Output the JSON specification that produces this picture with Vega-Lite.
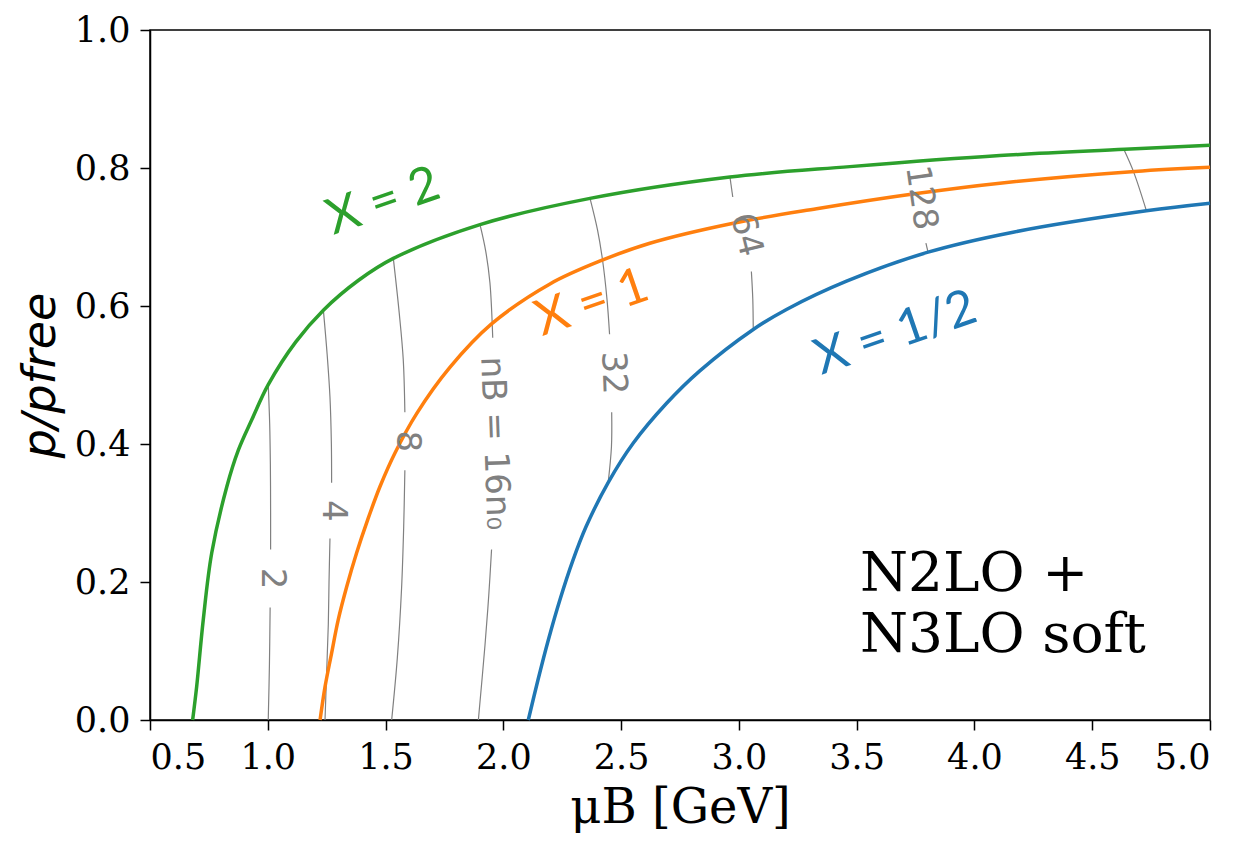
{
  "$schema": "https://vega.github.io/schema/vega-lite/v6.json",
  "width": 1060,
  "height": 690,
  "autosize": "none",
  "padding": {"left": 150, "top": 30, "right": 46, "bottom": 139},
  "background": "white",
  "config": {
    "view": {"stroke": "black", "strokeWidth": 1.5},
    "axis": {
      "grid": false,
      "domainColor": "black",
      "domainWidth": 1.5,
      "tickColor": "black",
      "tickWidth": 1.5,
      "tickSize": 10,
      "labelFont": "DejaVu Serif",
      "labelFontSize": 35,
      "labelColor": "black",
      "labelPadding": 10,
      "titleColor": "black",
      "titleFontWeight": "normal"
    }
  },
  "datasets": {
    "curves": [
      {"X": "2", "mu": 0.681, "p": 0.0},
      {"X": "2", "mu": 0.698, "p": 0.048},
      {"X": "2", "mu": 0.726, "p": 0.145},
      {"X": "2", "mu": 0.762, "p": 0.242},
      {"X": "2", "mu": 0.826, "p": 0.338},
      {"X": "2", "mu": 0.875, "p": 0.391},
      {"X": "2", "mu": 0.932, "p": 0.435},
      {"X": "2", "mu": 1.002, "p": 0.486},
      {"X": "2", "mu": 1.119, "p": 0.548},
      {"X": "2", "mu": 1.236, "p": 0.594},
      {"X": "2", "mu": 1.384, "p": 0.637},
      {"X": "2", "mu": 1.533, "p": 0.669},
      {"X": "2", "mu": 1.901, "p": 0.718},
      {"X": "2", "mu": 2.368, "p": 0.756},
      {"X": "2", "mu": 2.962, "p": 0.787},
      {"X": "2", "mu": 3.471, "p": 0.802},
      {"X": "2", "mu": 4.108, "p": 0.818},
      {"X": "2", "mu": 4.638, "p": 0.827},
      {"X": "2", "mu": 5.0, "p": 0.833},
      {"X": "1", "mu": 1.222, "p": 0.0},
      {"X": "1", "mu": 1.243, "p": 0.048},
      {"X": "1", "mu": 1.271, "p": 0.097},
      {"X": "1", "mu": 1.299, "p": 0.145},
      {"X": "1", "mu": 1.335, "p": 0.193},
      {"X": "1", "mu": 1.377, "p": 0.242},
      {"X": "1", "mu": 1.424, "p": 0.29},
      {"X": "1", "mu": 1.476, "p": 0.338},
      {"X": "1", "mu": 1.54, "p": 0.387},
      {"X": "1", "mu": 1.632, "p": 0.444},
      {"X": "1", "mu": 1.773, "p": 0.511},
      {"X": "1", "mu": 1.95, "p": 0.574},
      {"X": "1", "mu": 2.198, "p": 0.632},
      {"X": "1", "mu": 2.417, "p": 0.666},
      {"X": "1", "mu": 2.622, "p": 0.691},
      {"X": "1", "mu": 2.976, "p": 0.72},
      {"X": "1", "mu": 3.33, "p": 0.741},
      {"X": "1", "mu": 3.754, "p": 0.763},
      {"X": "1", "mu": 4.108, "p": 0.778},
      {"X": "1", "mu": 4.681, "p": 0.795},
      {"X": "1", "mu": 5.0, "p": 0.801},
      {"X": "1/2", "mu": 2.106, "p": 0.0},
      {"X": "1/2", "mu": 2.147, "p": 0.058},
      {"X": "1/2", "mu": 2.191, "p": 0.116},
      {"X": "1/2", "mu": 2.24, "p": 0.174},
      {"X": "1/2", "mu": 2.295, "p": 0.231},
      {"X": "1/2", "mu": 2.351, "p": 0.28},
      {"X": "1/2", "mu": 2.445, "p": 0.344},
      {"X": "1/2", "mu": 2.551, "p": 0.401},
      {"X": "1/2", "mu": 2.693, "p": 0.459},
      {"X": "1/2", "mu": 2.834, "p": 0.506},
      {"X": "1/2", "mu": 3.061, "p": 0.566},
      {"X": "1/2", "mu": 3.202, "p": 0.595},
      {"X": "1/2", "mu": 3.457, "p": 0.636},
      {"X": "1/2", "mu": 3.803, "p": 0.678},
      {"X": "1/2", "mu": 4.164, "p": 0.707},
      {"X": "1/2", "mu": 4.73, "p": 0.738},
      {"X": "1/2", "mu": 5.0, "p": 0.749}
    ],
    "contours": [
      {"seg": "2a", "mu": 1.002, "p": 0.486},
      {"seg": "2a", "mu": 1.008, "p": 0.43},
      {"seg": "2a", "mu": 1.011, "p": 0.37},
      {"seg": "2a", "mu": 1.012, "p": 0.3},
      {"seg": "2a", "mu": 1.012, "p": 0.247},
      {"seg": "2b", "mu": 1.01, "p": 0.163},
      {"seg": "2b", "mu": 1.007, "p": 0.08},
      {"seg": "2b", "mu": 1.002, "p": 0.0},
      {"seg": "4a", "mu": 1.236, "p": 0.594},
      {"seg": "4a", "mu": 1.252, "p": 0.53},
      {"seg": "4a", "mu": 1.264, "p": 0.468},
      {"seg": "4a", "mu": 1.27, "p": 0.4},
      {"seg": "4a", "mu": 1.271, "p": 0.344},
      {"seg": "4b", "mu": 1.264, "p": 0.263},
      {"seg": "4b", "mu": 1.26, "p": 0.2},
      {"seg": "4b", "mu": 1.257, "p": 0.139},
      {"seg": "4b", "mu": 1.25, "p": 0.07},
      {"seg": "4b", "mu": 1.243, "p": 0.0},
      {"seg": "8a", "mu": 1.533, "p": 0.669},
      {"seg": "8a", "mu": 1.558, "p": 0.59},
      {"seg": "8a", "mu": 1.575, "p": 0.523},
      {"seg": "8a", "mu": 1.582, "p": 0.446},
      {"seg": "8b", "mu": 1.582, "p": 0.362},
      {"seg": "8b", "mu": 1.577, "p": 0.28},
      {"seg": "8b", "mu": 1.568, "p": 0.191},
      {"seg": "8b", "mu": 1.55, "p": 0.09},
      {"seg": "8b", "mu": 1.526, "p": 0.0},
      {"seg": "16a", "mu": 1.901, "p": 0.718},
      {"seg": "16a", "mu": 1.925, "p": 0.68},
      {"seg": "16a", "mu": 1.943, "p": 0.634},
      {"seg": "16a", "mu": 1.955, "p": 0.554},
      {"seg": "16b", "mu": 1.95, "p": 0.247},
      {"seg": "16b", "mu": 1.938, "p": 0.18},
      {"seg": "16b", "mu": 1.922, "p": 0.108},
      {"seg": "16b", "mu": 1.894, "p": 0.0},
      {"seg": "32a", "mu": 2.368, "p": 0.756},
      {"seg": "32a", "mu": 2.4, "p": 0.71},
      {"seg": "32a", "mu": 2.421, "p": 0.667},
      {"seg": "32a", "mu": 2.44, "p": 0.61},
      {"seg": "32a", "mu": 2.451, "p": 0.559},
      {"seg": "32b", "mu": 2.46, "p": 0.446},
      {"seg": "32b", "mu": 2.459, "p": 0.396},
      {"seg": "32b", "mu": 2.445, "p": 0.344},
      {"seg": "64a", "mu": 2.962, "p": 0.787},
      {"seg": "64a", "mu": 2.974, "p": 0.758},
      {"seg": "64b", "mu": 3.053, "p": 0.65},
      {"seg": "64b", "mu": 3.059, "p": 0.61},
      {"seg": "64b", "mu": 3.061, "p": 0.566},
      {"seg": "128b", "mu": 3.794, "p": 0.691},
      {"seg": "128b", "mu": 3.803, "p": 0.678},
      {"seg": "256", "mu": 4.634, "p": 0.827},
      {"seg": "256", "mu": 4.676, "p": 0.794},
      {"seg": "256", "mu": 4.73, "p": 0.738}
    ],
    "clabels": [
      {"n": 2, "label": "2", "mu": 1.018, "p": 0.205},
      {"n": 4, "label": "4", "mu": 1.278, "p": 0.303},
      {"n": 8, "label": "8", "mu": 1.592, "p": 0.404},
      {"n": 16, "label": "nB = 16n₀", "mu": 1.962, "p": 0.401},
      {"n": 32, "label": "32", "mu": 2.466, "p": 0.503},
      {"n": 64, "label": "64", "mu": 3.03, "p": 0.703},
      {"n": 128, "label": "128", "mu": 3.772, "p": 0.757}
    ],
    "xlabels": [
      {"X": "2", "label": "X = 2", "mu": 1.49, "p": 0.751},
      {"X": "1", "label": "X = 1", "mu": 2.376, "p": 0.604},
      {"X": "1/2", "label": "X = 1/2", "mu": 3.665, "p": 0.56}
    ],
    "note": [
      {"label": "N2LO +\nN3LO soft", "mu": 3.514, "p": 0.187}
    ]
  },
  "encoding": {
    "x": {
      "field": "mu",
      "type": "quantitative",
      "scale": {"domain": [0.5, 5], "nice": false, "zero": false},
      "axis": {
        "values": [0.5, 1, 1.5, 2, 2.5, 3, 3.5, 4, 4.5, 5],
        "format": ".1f",
        "title": "μB [GeV]",
        "titleFont": "DejaVu Serif",
        "titleFontSize": 48,
        "titlePadding": 9
      }
    },
    "y": {
      "field": "p",
      "type": "quantitative",
      "scale": {"domain": [0, 1], "nice": false, "zero": false},
      "axis": {
        "values": [0, 0.2, 0.4, 0.6, 0.8, 1],
        "format": ".1f",
        "title": "p/pfree",
        "titleFont": "DejaVu Sans",
        "titleFontStyle": "italic",
        "titleFontSize": 46,
        "titlePadding": 10
      }
    }
  },
  "layer": [
    {
      "data": {"name": "contours"},
      "mark": {"type": "line", "color": "#808080", "strokeWidth": 1.2, "interpolate": "catmull-rom"},
      "encoding": {
        "detail": {"field": "seg", "type": "nominal"},
        "order": {"field": "p", "type": "quantitative"}
      }
    },
    {
      "data": {"name": "curves"},
      "mark": {"type": "line", "strokeWidth": 3.5, "interpolate": "catmull-rom"},
      "encoding": {
        "color": {
          "field": "X",
          "type": "nominal",
          "scale": {"domain": ["1/2", "1", "2"], "range": ["#1f77b4", "#ff7f0e", "#2ca02c"]},
          "legend": null
        }
      }
    },
    {
      "data": {"name": "xlabels"},
      "mark": {"type": "text", "font": "Lato", "fontSize": 50, "angle": -19, "align": "center", "baseline": "middle"},
      "encoding": {
        "text": {"field": "label", "type": "nominal"},
        "color": {
          "field": "X",
          "type": "nominal",
          "scale": {"domain": ["1/2", "1", "2"], "range": ["#1f77b4", "#ff7f0e", "#2ca02c"]},
          "legend": null
        }
      }
    },
    {
      "data": {"name": "clabels"},
      "transform": [{"filter": "datum.n <= 8"}],
      "mark": {"type": "text", "font": "DejaVu Sans", "fontSize": 34, "color": "#808080", "angle": 90, "align": "center", "baseline": "middle"},
      "encoding": {"text": {"field": "label", "type": "nominal"}}
    },
    {
      "data": {"name": "clabels"},
      "transform": [{"filter": "datum.n == 16 || datum.n == 32"}],
      "mark": {"type": "text", "font": "DejaVu Sans", "fontSize": 34, "color": "#808080", "angle": 88, "align": "center", "baseline": "middle"},
      "encoding": {"text": {"field": "label", "type": "nominal"}}
    },
    {
      "data": {"name": "clabels"},
      "transform": [{"filter": "datum.n == 64"}],
      "mark": {"type": "text", "font": "DejaVu Sans", "fontSize": 34, "color": "#808080", "angle": 76, "align": "center", "baseline": "middle"},
      "encoding": {"text": {"field": "label", "type": "nominal"}}
    },
    {
      "data": {"name": "clabels"},
      "transform": [{"filter": "datum.n == 128"}],
      "mark": {"type": "text", "font": "DejaVu Sans", "fontSize": 34, "color": "#808080", "angle": 82, "align": "center", "baseline": "middle"},
      "encoding": {"text": {"field": "label", "type": "nominal"}}
    },
    {
      "data": {"name": "note"},
      "mark": {"type": "text", "font": "DejaVu Serif", "fontSize": 55, "color": "black", "align": "left", "baseline": "alphabetic", "lineBreak": "\n", "lineHeight": 61},
      "encoding": {"text": {"field": "label", "type": "nominal"}}
    }
  ]
}
